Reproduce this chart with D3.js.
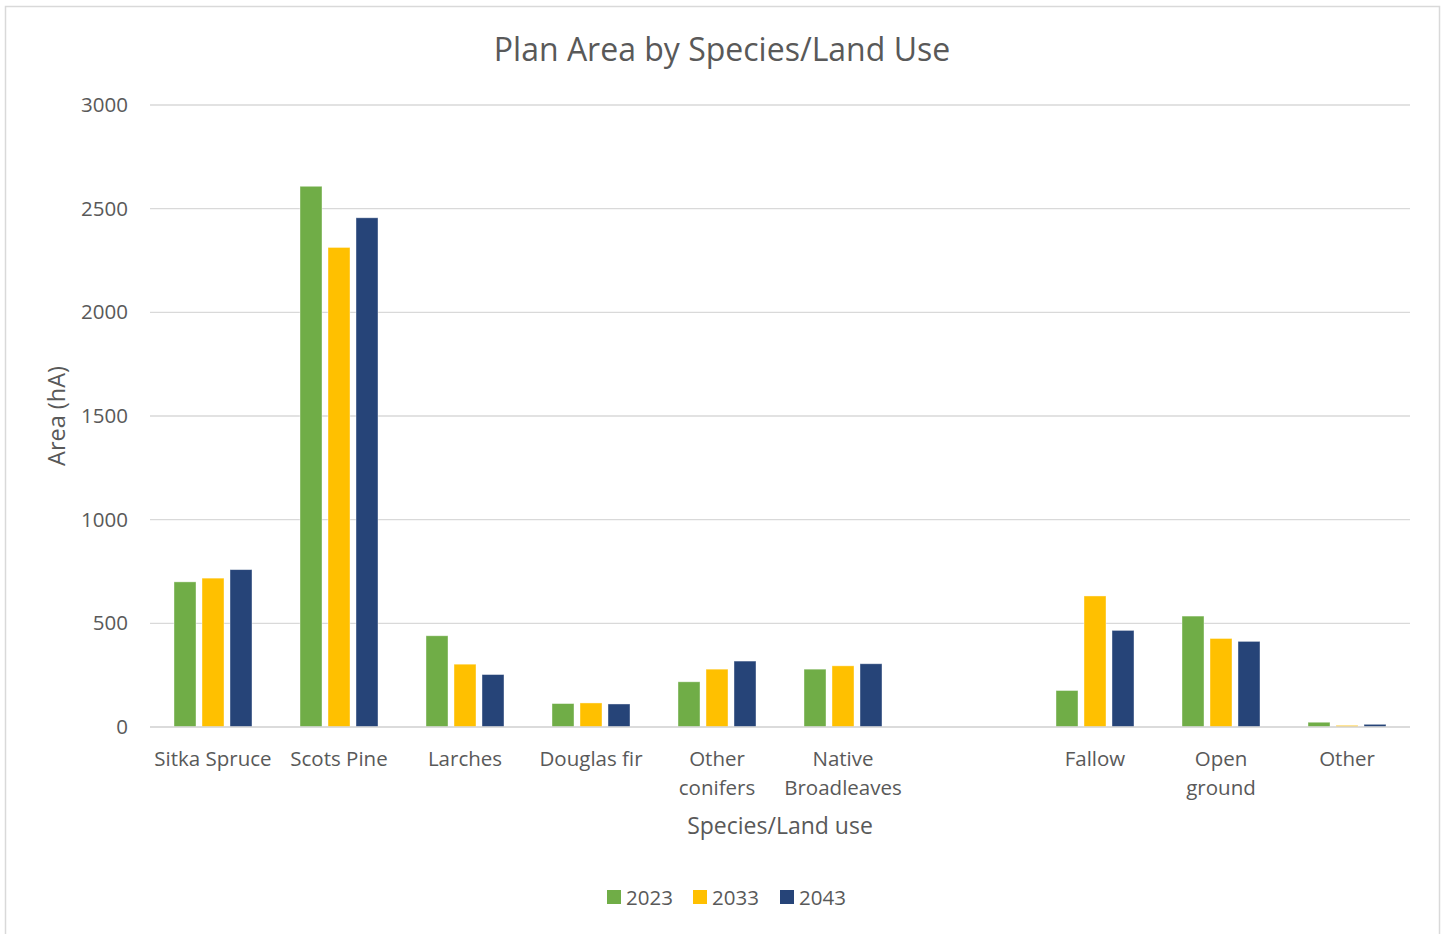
<!DOCTYPE html>
<html>
<head>
<meta charset="utf-8">
<script src="https://cdn.jsdelivr.net/npm/d3@7"></script>
<style>
  body { margin: 0; background: #fff; }
  svg text { font-family: "Open Sans", "Noto Sans", sans-serif; fill: #595959; }
</style>
</head>
<body>
<svg id="chart" width="1447" height="934"></svg>
<script>
const categories = [
  ["Sitka Spruce"], ["Scots Pine"], ["Larches"], ["Douglas fir"],
  ["Other", "conifers"], ["Native", "Broadleaves"], [""],
  ["Fallow"], ["Open", "ground"], ["Other"]
];
const categoryKeys = ["Sitka Spruce", "Scots Pine", "Larches", "Douglas fir", "Other conifers", "Native Broadleaves", "blank", "Fallow", "Open ground", "Other"];
const seriesNames = ["2023", "2033", "2043"];
const values2023 = [700, 2608, 440, 113, 218, 279, null, 176, 535, 23];
const values2033 = [718, 2313, 303, 116, 279, 295, null, 632, 427, 8];
const values2043 = [759, 2456, 253, 111, 318, 305, null, 466, 413, 13];
const seriesColors = ["#70AD47", "#FFC000", "#264478"];
const yTicks = [0, 500, 1000, 1500, 2000, 2500, 3000];

(function () {
const allSeries = [values2023, values2033, values2043];
const svg = d3.select("#chart");

// outer border
svg.append("rect").attr("x", 5.5).attr("y", 6.5).attr("width", 1434).attr("height", 940)
  .attr("fill", "none").attr("stroke", "#d9d9d9").attr("stroke-width", 1.5);

const pLeft = 150, pRight = 1410, pTop = 105, pBottom = 727;
const x = d3.scaleBand().domain(categoryKeys).range([pLeft, pRight]).paddingInner(0).paddingOuter(0);
const y = d3.scaleLinear().domain([0, 3000]).range([pBottom, pTop]);

// gridlines
svg.append("g").selectAll("line").data(yTicks).join("line")
  .attr("x1", pLeft).attr("x2", pRight)
  .attr("y1", d => y(d)).attr("y2", d => y(d))
  .attr("stroke", "#d9d9d9").attr("stroke-width", 1.3);

// y axis labels
const yAxis = d3.axisLeft(y).tickValues(yTicks).tickSize(0).tickPadding(0).tickFormat(d3.format("d"));
const gy = svg.append("g").attr("transform", `translate(${128},0)`).call(yAxis);
gy.select(".domain").remove();
gy.selectAll("text").style("font-size", "20.5px").attr("fill", "#595959")
  .style("font-family", '"Open Sans", sans-serif');

// bars
const barW = 22, gap = 6;
const groupW = 3 * barW + 2 * gap;
const xs = d3.scaleBand().domain(seriesNames).range([0, groupW]).paddingInner(gap / (barW + gap)).paddingOuter(0);

seriesNames.forEach((s, si) => {
  const vals = allSeries[si];
  svg.append("g").selectAll("rect")
    .data(categoryKeys.map((k, i) => ({ k, v: vals[i] })).filter(d => d.v != null))
    .join("rect")
    .attr("x", d => x(d.k) + x.bandwidth() / 2 - groupW / 2 + xs(s))
    .attr("y", d => y(d.v))
    .attr("width", xs.bandwidth())
    .attr("height", d => pBottom - y(d.v))
    .attr("fill", seriesColors[si])
    .attr("stroke", "#ffffff").attr("stroke-opacity", 0.5).attr("stroke-width", 0.8);
});

// baseline
svg.append("line").attr("x1", pLeft).attr("x2", pRight).attr("y1", pBottom).attr("y2", pBottom)
  .attr("stroke", "#d9d9d9").attr("stroke-width", 1.5);

// x labels
const xl = svg.append("g");
categoryKeys.forEach((k, i) => {
  const t = xl.append("text").attr("x", x(k) + x.bandwidth() / 2).attr("y", 766)
    .attr("text-anchor", "middle").style("font-size", "20.5px");
  categories[i].forEach((line, li) => {
    t.append("tspan").attr("x", x(k) + x.bandwidth() / 2).attr("dy", li === 0 ? 0 : 29).text(line);
  });
});

// title
svg.append("text").attr("x", 722).attr("y", 61).attr("text-anchor", "middle")
  .style("font-size", "32px").text("Plan Area by Species/Land Use");

// axis titles
svg.append("text").attr("x", 780).attr("y", 834).attr("text-anchor", "middle")
  .style("font-size", "23px").text("Species/Land use");
svg.append("text").attr("transform", "translate(65,416) rotate(-90)").attr("text-anchor", "middle")
  .style("font-size", "23.5px").text("Area (hA)");

// legend
const legendX = [607, 693, 780];
seriesNames.forEach((s, i) => {
  svg.append("rect").attr("x", legendX[i]).attr("y", 890).attr("width", 14).attr("height", 14)
    .attr("fill", seriesColors[i]);
  svg.append("text").attr("x", legendX[i] + 19).attr("y", 905)
    .style("font-size", "20.5px").text(s);
});
})();
</script>
</body>
</html>
